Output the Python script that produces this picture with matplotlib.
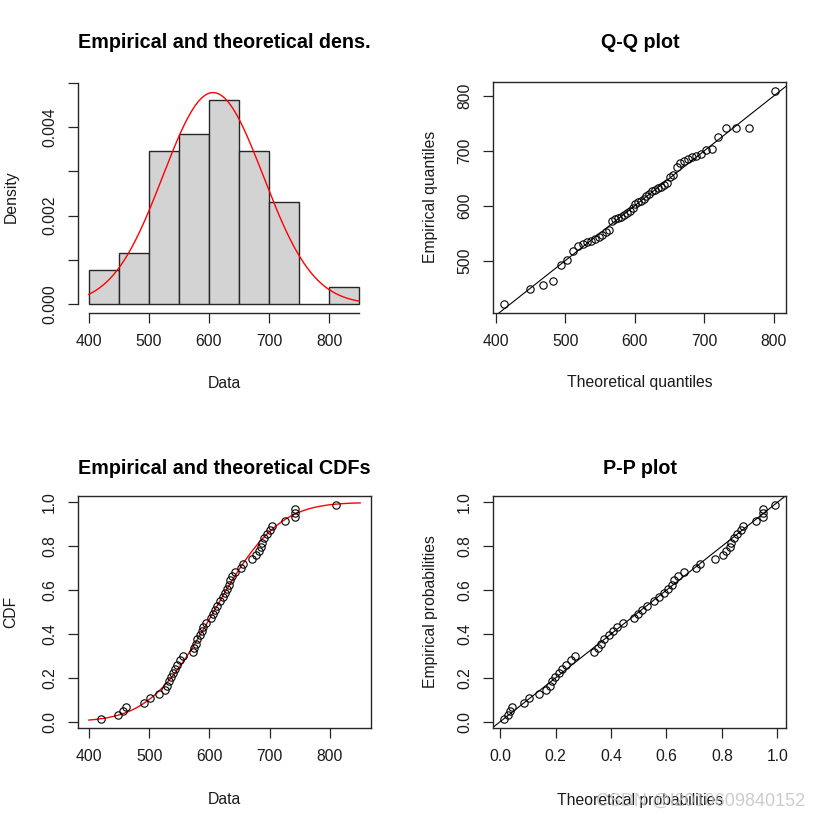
import numpy as np
import matplotlib.pyplot as plt
from statistics import NormalDist

plt.rcParams['font.family'] = ['Liberation Sans', 'DejaVu Sans']

# 样本数据 (52个观测值, 从图上读出)
data = [420, 448, 456, 462, 492, 501, 517, 526, 530, 533,
        536, 540, 543, 547, 552, 556, 572, 575, 578, 580,
        584, 587, 590, 595, 603, 606, 609, 613, 618, 622,
        626, 629, 632, 634, 637, 642, 652, 656, 670, 678,
        682, 686, 688, 691, 695, 701, 704, 725, 742, 742,
        742, 810]
breaks = [400, 450, 500, 550, 600, 650, 700, 750, 800, 850]

titles = ["Empirical and theoretical dens.", "Q-Q plot",
          "Empirical and theoretical CDFs", "P-P plot"]
xlabels = ["Data", "Theoretical quantiles", "Data", "Theoretical probabilities"]
ylabels = ["Density", "Empirical quantiles", "CDF", "Empirical probabilities"]

x = np.sort(np.array(data, dtype=float))
n = len(x)
mu = x.mean()
sd = x.std()          # 正态分布的极大似然估计
nd = NormalDist(mu, sd)
pp = (np.arange(1, n + 1) - 0.5) / n   # ppoints

W, H = 817, 819
fig = plt.figure(figsize=(W / 100, H / 100), dpi=100)
fs = 11.3
lc = '#262626'


def box(l, t, r, b):
    return fig.add_axes([l / W, 1 - b / H, (r - l) / W, (b - t) / H])


def pad(lo, hi):
    d = (hi - lo) * 0.04
    return lo - d, hi + d


def style(ax, full=True):
    ax.tick_params(direction='out', length=7.2, width=0.9, pad=8, labelsize=fs,
                   colors=lc, labelcolor='#1a1a1a')
    for s in ax.spines.values():
        s.set_color(lc)
        s.set_linewidth(1.0)
    for lab in ax.get_yticklabels():
        lab.set_rotation(90)
        lab.set_va('center')


ax1 = box(78, 82, 370, 313)
ax2 = box(493, 82, 786, 313)
ax3 = box(78, 496, 371, 728)
ax4 = box(493, 496, 786, 728)

# 直方图 + 理论密度
ax1.hist(x, bins=breaks, density=True, color='#d3d3d3', edgecolor=lc, linewidth=1.0)
xs = np.linspace(400, 850, 300)
ax1.plot(xs, [nd.pdf(v) for v in xs], color='red', lw=1.0)
ax1.set_xlim(*pad(400, 850))
ax1.set_ylim(-0.0002, 0.00502)
ax1.set_xticks([400, 500, 600, 700, 800])
ax1.set_yticks([0, 0.001, 0.002, 0.003, 0.004, 0.005])
ax1.set_yticklabels(['0.000', '', '0.002', '', '0.004', ''])
ax1.spines['top'].set_visible(False)
ax1.spines['right'].set_visible(False)
ax1.spines['left'].set_bounds(0, 0.005)
ax1.spines['bottom'].set_bounds(400, 850)
style(ax1)

mk = dict(marker='o', ls='none', mfc='none', mec='black', ms=5.3, mew=0.8)

# Q-Q 图
theo = np.array([nd.inv_cdf(p) for p in pp])
ax2.plot(theo, x, **mk)
ax2.axline((0, 0), slope=1, color='black', lw=0.8)
ax2.set_xlim(*pad(theo.min(), theo.max()))
ax2.set_ylim(*pad(x.min(), x.max()))
ax2.set_xticks([400, 500, 600, 700, 800])
ax2.set_yticks([500, 600, 700, 800])
style(ax2)

# 经验与理论 CDF
ax3.plot(xs, [nd.cdf(v) for v in xs], color='red', lw=1.0)
ax3.plot(x, pp, **mk)
ax3.set_xlim(*pad(400, 850))
ax3.set_ylim(*pad(pp.min(), pp.max()))
ax3.set_xticks([400, 500, 600, 700, 800])
ax3.set_yticks([0, 0.2, 0.4, 0.6, 0.8, 1.0])
ax3.set_yticklabels(['0.0', '0.2', '0.4', '0.6', '0.8', '1.0'])
style(ax3)

# P-P 图
tp = np.array([nd.cdf(v) for v in x])
ax4.plot(tp, pp, **mk)
ax4.axline((0, 0), slope=1, color='black', lw=0.8)
ax4.set_xlim(*pad(tp.min(), tp.max()))
ax4.set_ylim(*pad(pp.min(), pp.max()))
ax4.set_xticks([0, 0.2, 0.4, 0.6, 0.8, 1.0])
ax4.set_xticklabels(['0.0', '0.2', '0.4', '0.6', '0.8', '1.0'])
ax4.set_yticks([0, 0.2, 0.4, 0.6, 0.8, 1.0])
ax4.set_yticklabels(['0.0', '0.2', '0.4', '0.6', '0.8', '1.0'])
style(ax4)

# 标题和坐标轴标签 (像素位置)
cx = [224, 640, 224, 640]
ty = [43, 43, 468, 468]
xly = [383, 383, 800, 800]
ylx = [11, 431, 11, 431]
yly = [197, 197, 612, 612]
for i in range(4):
    fig.text(cx[i] / W, 1 - ty[i] / H, titles[i], ha='center', va='center',
             fontsize=14.2, fontweight='bold', color='black')
    fig.text(cx[i] / W, 1 - xly[i] / H, xlabels[i], ha='center', va='center',
             fontsize=fs, color='#1a1a1a')
    fig.text(ylx[i] / W, 1 - yly[i] / H, ylabels[i], ha='center', va='center',
             rotation=90, fontsize=fs, color='#1a1a1a')

# 水印
fig.text(701 / W, 1 - 801 / H, "CSDN @l2010609840152", ha='center', va='center',
         fontsize=13, color='#c4c4c4', alpha=0.85)

fig.savefig('out.png', dpi=100)
